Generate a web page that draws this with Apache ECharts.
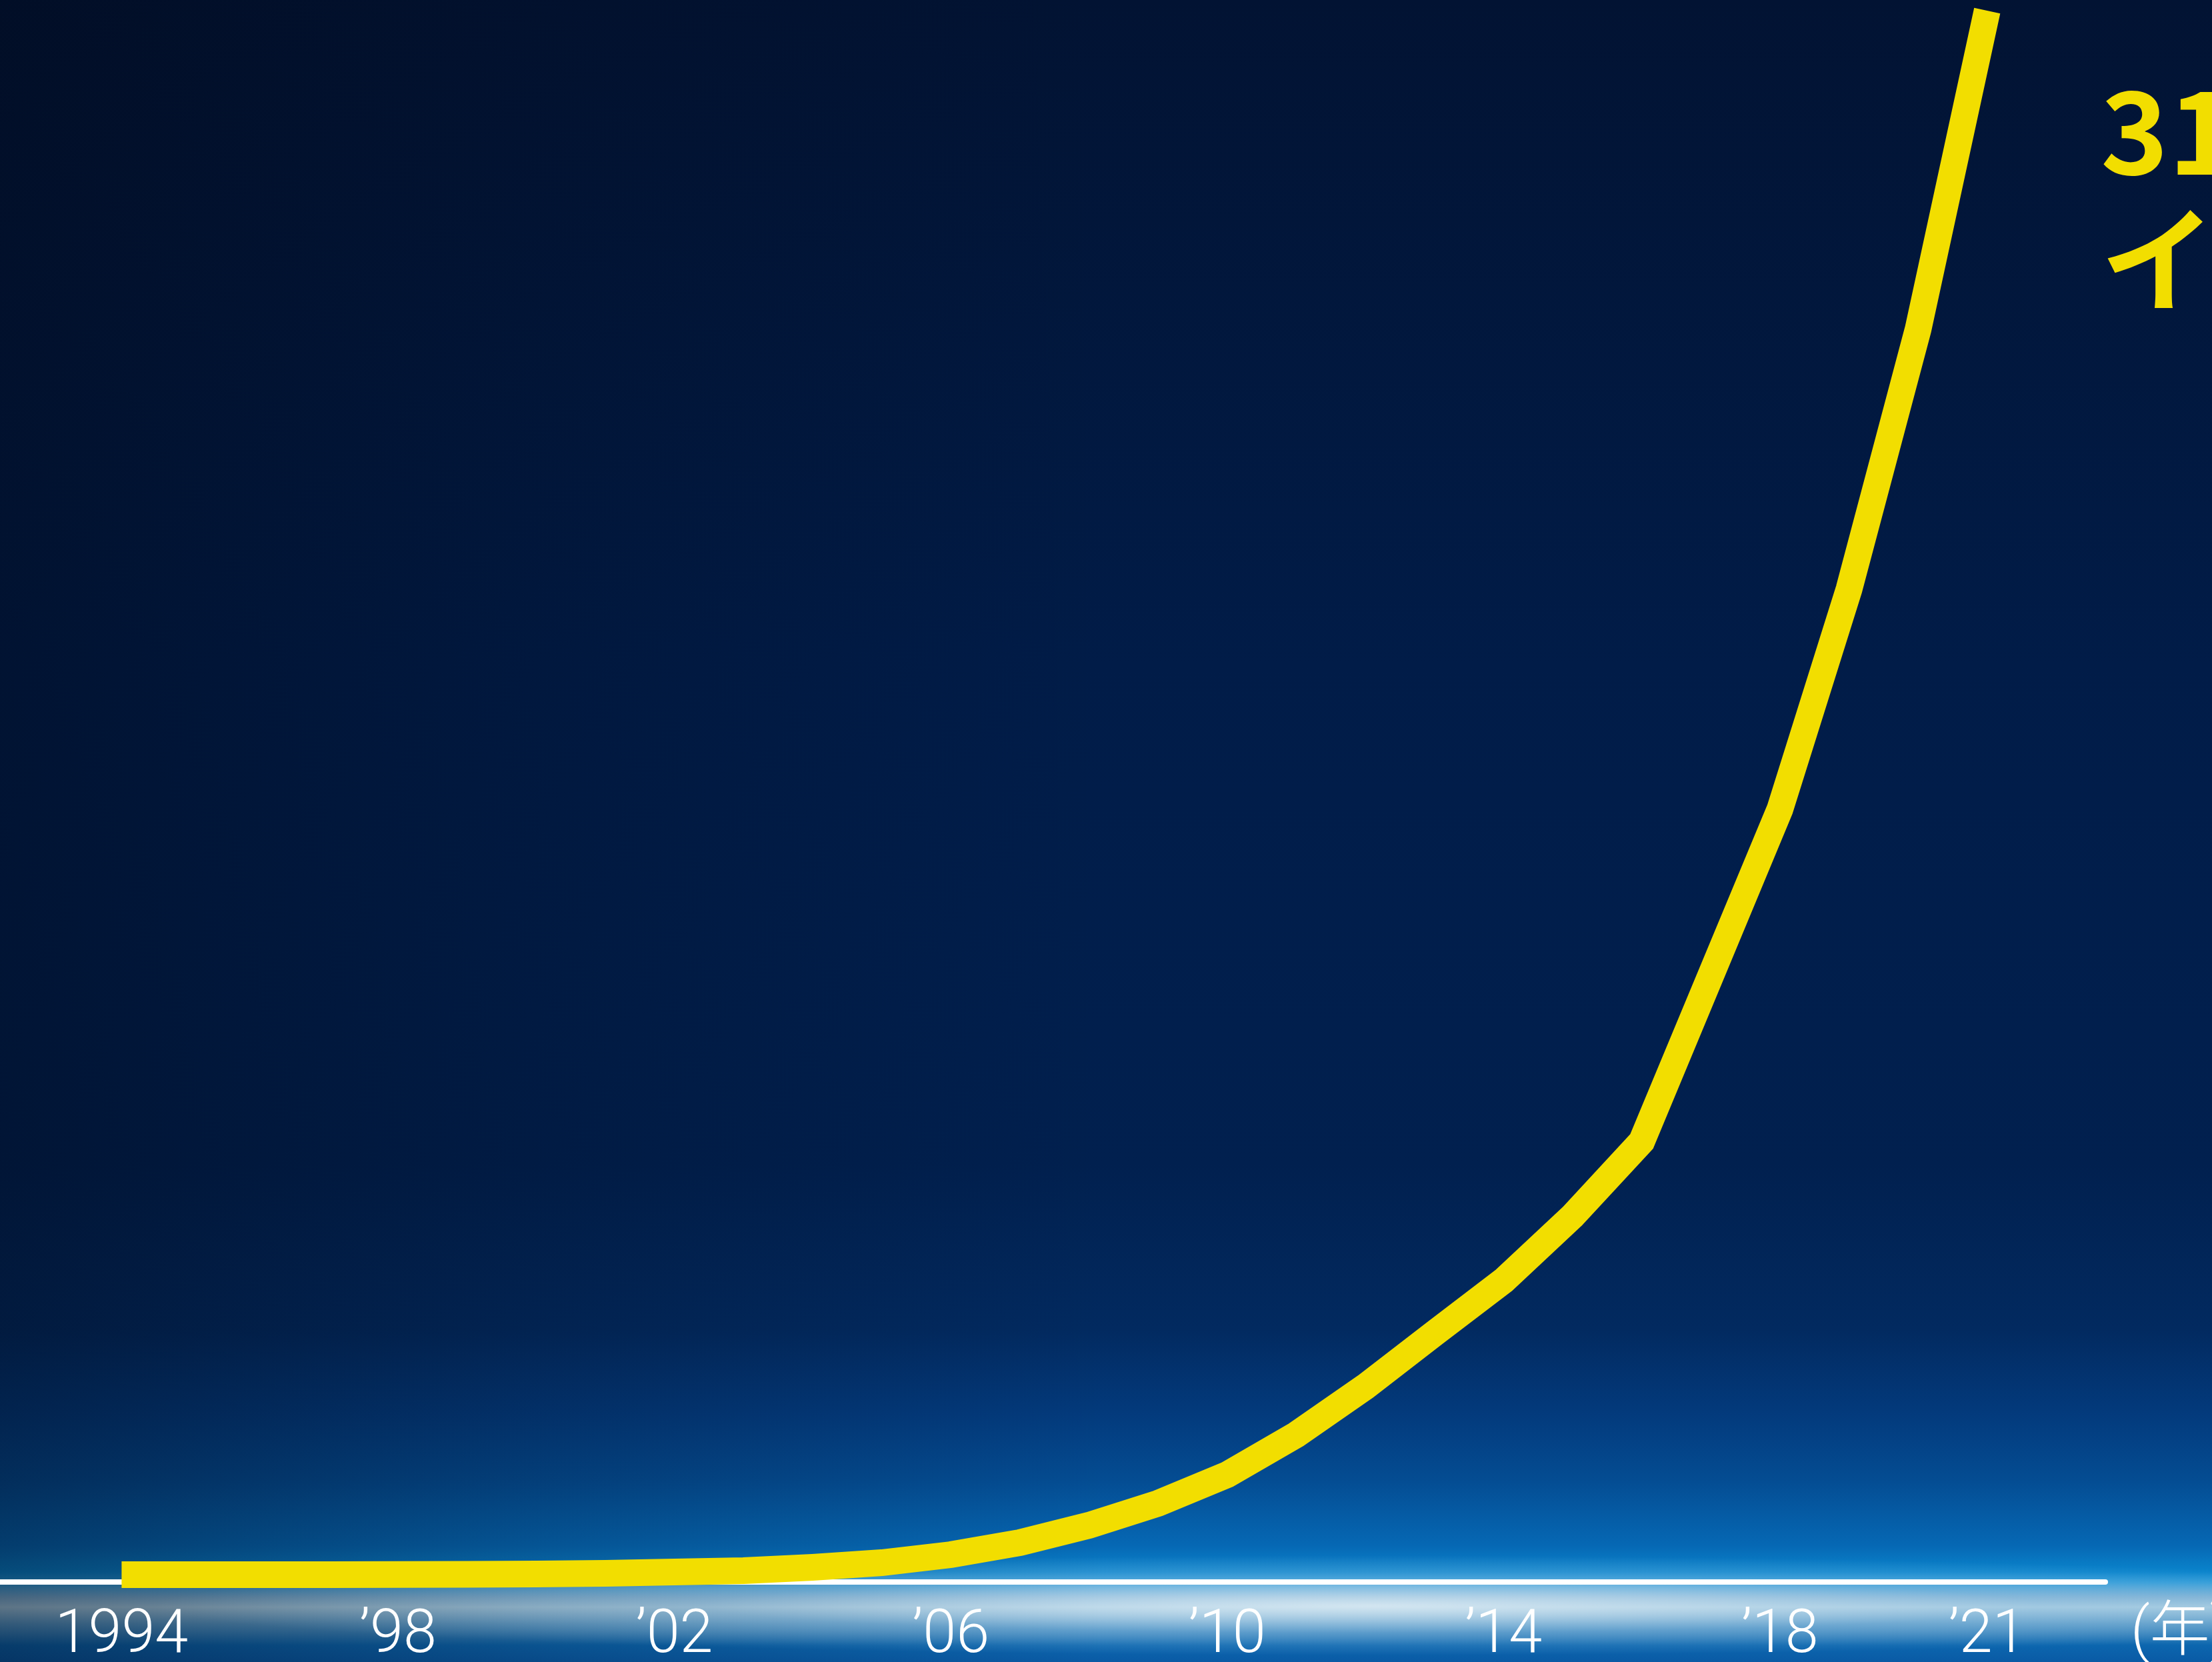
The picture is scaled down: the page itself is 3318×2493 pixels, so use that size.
<!DOCTYPE html>
<html>
<head>
<meta charset="utf-8">
<script src="https://cdn.jsdelivr.net/npm/echarts@6/dist/echarts.min.js"></script>
<style>
  html, body { margin: 0; padding: 0; width: 3318px; height: 2493px; overflow: hidden; }
  #chart {
    width: 3318px; height: 2493px;
    background:
      radial-gradient(ellipse 55% 3% at 62% 96.6%, rgba(225,238,246,0.75) 0%, rgba(150,195,228,0.35) 55%, rgba(0,0,0,0) 100%),
      linear-gradient(to right, rgba(1,8,24,0.45) 0%, rgba(1,8,24,0.2) 25%, rgba(0,0,0,0) 50%),
      linear-gradient(to bottom, #021333 0%, #011c48 40%, #01204f 70%, #022a60 80%, #033a7c 85%, #044c92 89%, #0668b4 93%, #0a84cc 94.6%, #2a9ad8 95.2%, #7fb2d4 96.1%, #a9cde0 96.7%, #5c9cc8 97.7%, #0c66ae 99%, #0a5aa5 100%);
  }
</style>
</head>
<body>
<div id="chart"></div>
<script>
// Years on the x axis
const years = [1994, 1995, 1996, 1997, 1998, 1999, 2000, 2001, 2002, 2003,
               2004, 2005, 2006, 2007, 2008, 2009, 2010, 2011, 2012, 2013,
               2014, 2015, 2016, 2017, 2018, 2019, 2020, 2021];
// Relative values (no y scale is shown)
const values = [0, 0, 0, 0, 0.3, 0.5, 1, 2, 4, 6,
                11, 18, 30, 48, 74, 107, 150, 210, 282, 362,
                441, 538, 650, 899, 1148, 1478, 1868, 2346];
// Tick labels
const tickYears = [1994, 1998, 2002, 2006, 2010, 2014, 2018, 2021];
const tickLabels = ['1994', '\u201998', '\u201902', '\u201906', '\u201910', '\u201914', '\u201918', '\u201921'];
const axisUnit = '(年)';
const titleLines = ['31', 'イン'];

const chart = echarts.init(document.getElementById('chart'), null, { renderer: 'canvas' });
const labelFont = 'Roboto, "Noto Sans CJK JP", sans-serif';

chart.setOption({
  backgroundColor: 'transparent',
  animation: false,
  title: {
    text: titleLines.join('\n'),
    left: 3146,
    top: 96,
    textStyle: {
      color: '#F2DE00',
      fontSize: 172,
      fontWeight: 'bold',
      lineHeight: 192,
      fontFamily: '"Noto Sans CJK JP", sans-serif'
    }
  },
  grid: { left: 0, right: 160, top: 16, bottom: 120, outerBoundsMode: 'none', containLabel: false },
  xAxis: {
    type: 'value',
    min: 1992.24,
    max: 2022.71,
    axisLine: { show: true, onZero: false, lineStyle: { color: '#ffffff', width: 8 } },
    axisTick: { show: false },
    splitLine: { show: false },
    axisLabel: {
      customValues: tickYears,
      formatter: function (v) {
        const i = tickYears.indexOf(Math.round(v));
        return i >= 0 ? tickLabels[i] : '';
      },
      color: '#ffffff',
      fontSize: 90,
      fontFamily: labelFont,
      fontWeight: 300,
      margin: 37
    }
  },
  yAxis: {
    type: 'value',
    min: -11,
    max: 2346,
    show: false,
    splitLine: { show: false }
  },
  graphic: [{
    type: 'text',
    x: 3196,
    y: 2452,
    style: {
      text: axisUnit,
      fill: '#ffffff',
      fontSize: 90,
      fontWeight: 300,
      fontFamily: labelFont,
      verticalAlign: 'middle',
      align: 'left'
    }
  }],
  series: [{
    type: 'line',
    data: years.map((y, i) => [y, values[i]]),
    symbol: 'none',
    clip: false,
    z: 5,
    lineStyle: { color: '#F2DE00', width: 40, cap: 'butt', join: 'miter' }
  }]
});
</script>
</body>
</html>
